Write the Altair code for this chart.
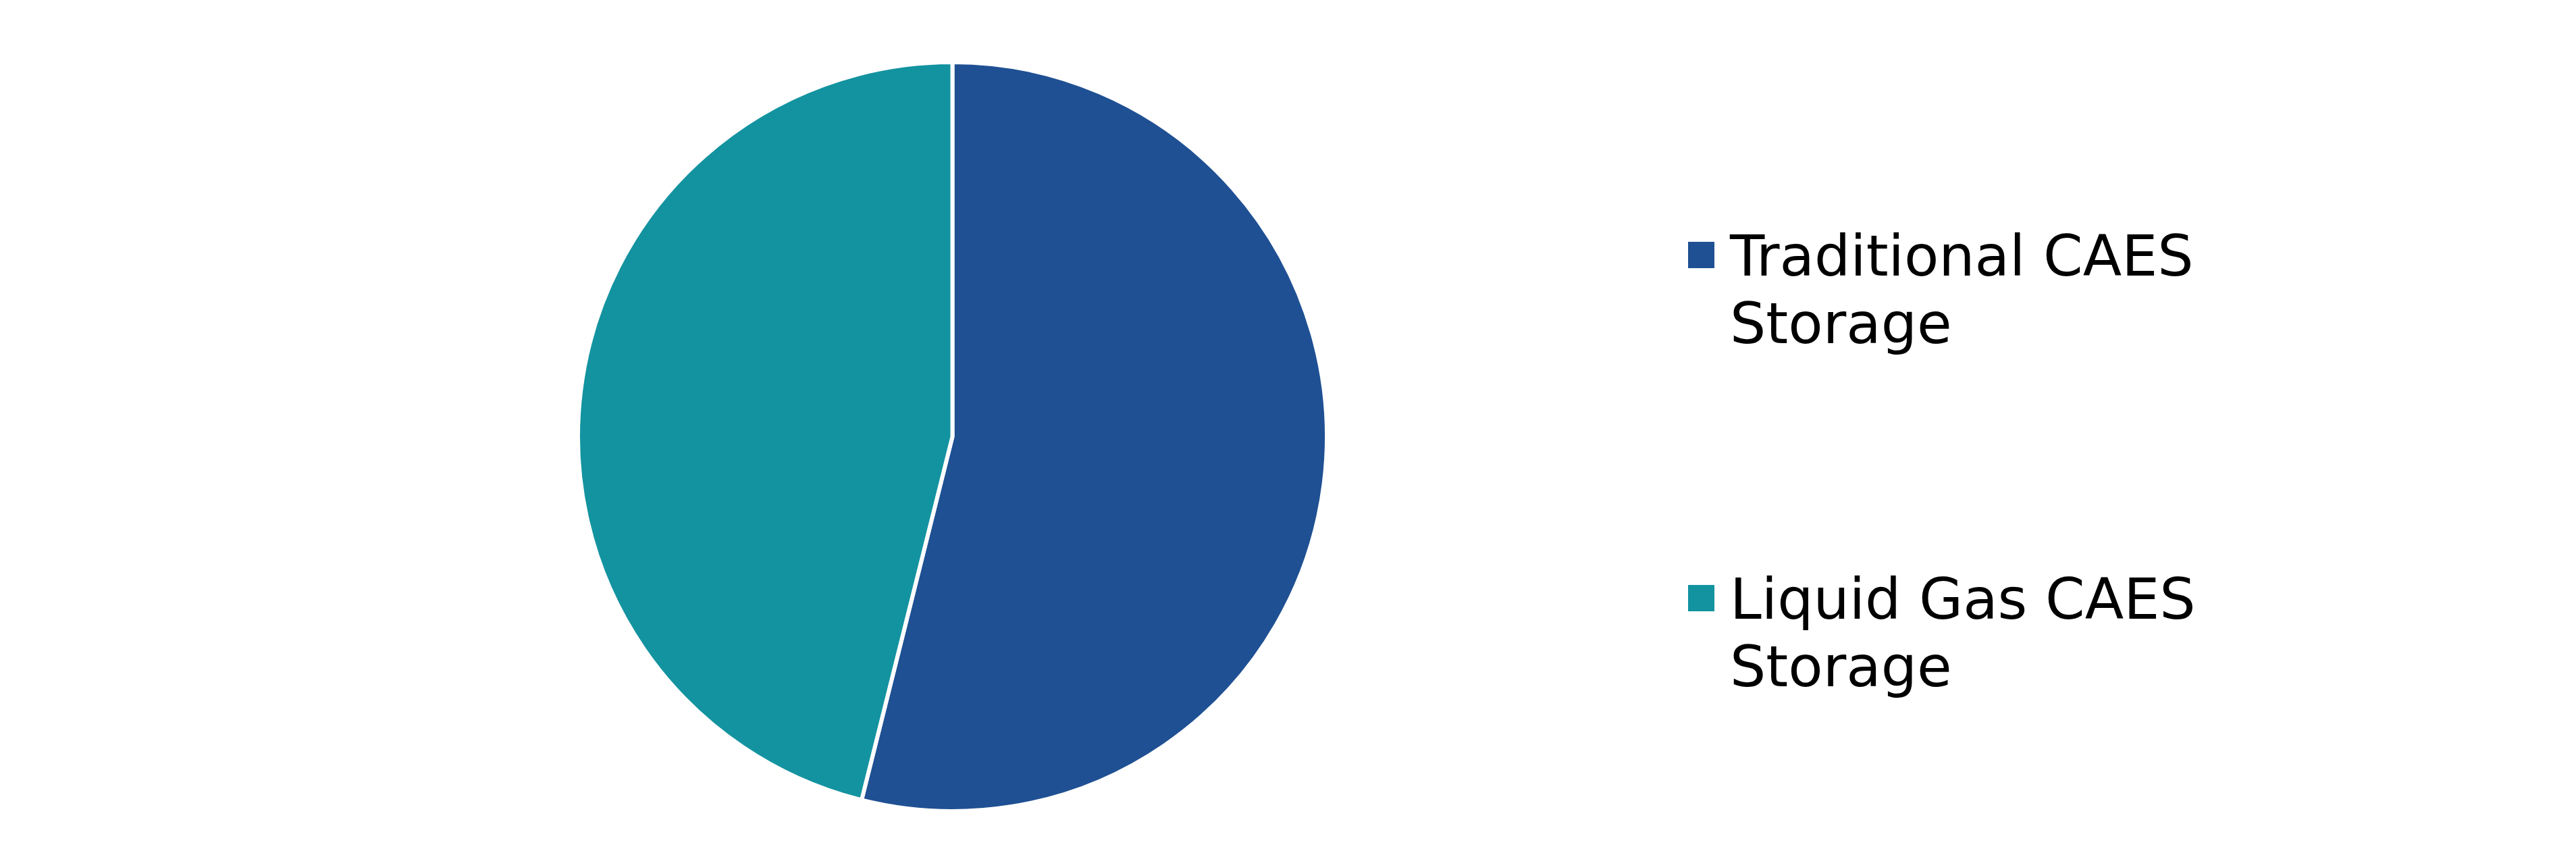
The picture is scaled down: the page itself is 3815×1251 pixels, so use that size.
import altair as alt
import pandas as pd

categories = ["Traditional CAES Storage", "Liquid Gas CAES Storage"]
shares = [53.9, 46.1]
legend_labels = ["Traditional CAES\nStorage", "Liquid Gas CAES\nStorage"]
colors = ["#1F5093", "#1393A0"]

df = pd.DataFrame({
    "category": categories,
    "share": shares,
    "label": legend_labels,
    "idx": list(range(len(categories))),
})

color_scale = alt.Scale(domain=categories, range=colors)

pie = alt.Chart(df).mark_arc(
    radius=554.5, stroke="white", strokeWidth=6, xOffset=252.5, yOffset=0
).encode(
    theta=alt.Theta("share:Q", stack=True),
    color=alt.Color("category:N", scale=color_scale, legend=None),
    order=alt.Order("idx:Q"),
).properties(width=2300, height=1193)

ypos = alt.Y("category:N", scale=alt.Scale(type="point", domain=categories,
                                             range=[327.5, 835.5], padding=0), axis=None)

squares = alt.Chart(df).mark_square(size=1521, opacity=1).encode(
    x=alt.value(211.5),
    y=ypos,
    color=alt.Color("category:N", scale=color_scale, legend=None),
)

texts = alt.Chart(df).mark_text(
    align="left", baseline="alphabetic", dy=30.5, font="DejaVu Sans",
    fontSize=84, lineHeight=100, lineBreak="\n", color="black"
).encode(
    x=alt.value(254),
    y=ypos,
    text="label:N",
)

legend = alt.layer(squares, texts).properties(width=1499, height=1193)

chart = alt.hconcat(pie, legend, spacing=0).properties(
    padding={"top": 42, "left": 0, "right": 0, "bottom": 0}
).configure_view(stroke=None)

chart.save("out.html", embed_options={"renderer": "svg", "actions": False})
